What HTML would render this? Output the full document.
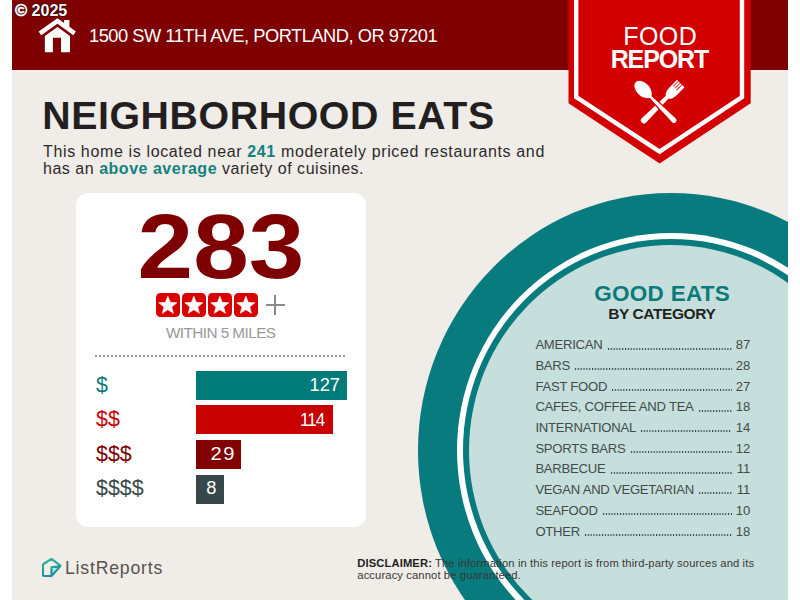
<!DOCTYPE html>
<html><head><meta charset="utf-8">
<style>
html,body{margin:0;padding:0;width:800px;height:600px;overflow:hidden;background:#fff;}
body{font-family:"Liberation Sans",sans-serif;position:relative;}
#page{position:absolute;left:12px;top:0;width:776px;height:600px;background:#f0ece8;overflow:hidden;}
.t{position:absolute;white-space:nowrap;line-height:1;}
#hdr{position:absolute;left:12px;top:0;width:776px;height:70px;background:#7e0000;}
#copy{left:15px;top:2.3px;color:#fff;font-weight:bold;font-size:16px;text-shadow:0 0 1.5px #000,0 0 1px #000;}
#addr{left:89px;top:26.5px;color:#fff;font-size:18.3px;letter-spacing:-0.49px;}
#title{left:42.2px;top:95.8px;color:#231f20;font-weight:bold;font-size:39.3px;letter-spacing:0.59px;}
#para{left:43px;top:143px;color:#2d2a2a;font-size:16px;line-height:17.3px;letter-spacing:0.64px;}
#para b{color:#13827f;}
#disc b{color:#231f20;}
#food{left:568px;top:23.6px;width:184px;text-align:center;color:#fff;font-size:25px;letter-spacing:0.5px;text-indent:0.5px;}
#report{left:568px;top:46.7px;width:184px;text-align:center;color:#fff;font-size:25px;font-weight:bold;letter-spacing:-1.1px;text-indent:-1.1px;}
#card{position:absolute;left:76px;top:193px;width:290px;height:334px;background:#fff;border-radius:12px;}
#big{left:76px;width:290px;top:201.5px;text-align:center;color:#7e0000;font-weight:bold;font-size:90.3px;transform:scaleX(1.1066);transform-origin:145px 0;}
.star{position:absolute;top:293.2px;width:23.7px;height:23.5px;background:#d90000;border-radius:4.5px;}
#plus1{position:absolute;left:265.5px;top:303.7px;width:19.3px;height:2px;background:#8a8a8a;}
#plus2{position:absolute;left:274.4px;top:295px;width:2px;height:20px;background:#8a8a8a;}
#within{left:76px;width:290px;top:324.7px;text-align:center;color:#999;font-size:15.3px;letter-spacing:-0.55px;text-indent:-0.55px;}
#dash{position:absolute;left:95.3px;top:354.9px;width:251.5px;height:2px;background:repeating-linear-gradient(90deg,#999 0 2.5px,transparent 2.5px 4px);}
.bar{position:absolute;left:196px;height:29px;}
.bn{color:#fff;font-size:18.3px;text-align:right;}
.lbl{left:96px;font-size:21.4px;}
#circ{position:absolute;left:406.3px;top:192.7px;width:505.7px;height:515.4px;border-radius:50%;background:#077b7e;}
#ring{position:absolute;left:38.3px;top:40px;width:429px;height:435.4px;border-radius:50%;background:#fff;}
#ring2{position:absolute;left:6.85px;top:6.6px;width:415.3px;height:422.1px;border-radius:50%;background:#077b7e;}
#fill{position:absolute;left:5.5px;top:5.4px;width:404.3px;height:411.3px;border-radius:50%;background:#c7dfdc;}
#good{left:562px;top:282.5px;width:200px;text-align:center;color:#0b7a7a;font-weight:bold;font-size:22.5px;letter-spacing:0.3px;text-indent:0.3px;}
#bycat{left:562px;top:305.6px;width:200px;text-align:center;color:#231f20;font-weight:bold;font-size:15.5px;letter-spacing:-0.4px;text-indent:-0.4px;}
.row{position:absolute;left:535.4px;width:215px;height:14px;font-size:13.1px;line-height:1;color:#404b4b;display:flex;white-space:nowrap;}
.row span:first-child{letter-spacing:-0.25px;}
.row .d{flex:1;margin:0 3.5px 0 4.3px;height:12px;background-image:radial-gradient(circle at 1.5px 1px,#3a4444 0.75px,transparent 1.05px);background-size:2.85px 2px;background-repeat:repeat-x;background-position:0 9.4px;}
#logo{left:65px;top:559.6px;color:#58534f;font-size:17.7px;letter-spacing:0.78px;}
#disc{left:357.3px;top:558.3px;color:#3a3636;font-size:11.2px;line-height:11.9px;letter-spacing:0.125px;}
</style></head><body>
<div id="page">
  <div id="circ"><div id="ring"><div id="ring2"><div id="fill"></div></div></div></div>
</div>
<div id="hdr"></div>
<div id="copy" class="t"><span style="-webkit-text-stroke:0.6px #fff;font-size:16.5px">©</span> 2025</div>
<svg style="position:absolute;left:0;top:0" width="100" height="60" viewBox="0 0 100 60">
  <path d="M64.1 20 L69.4 20 L69.4 29 L64.1 26 Z" fill="#fff"/>
  <path d="M39.95 33.43 L57.46 21 L74.6 33.43" fill="none" stroke="#fff" stroke-width="4.5" stroke-miterlimit="10"/>
  <path d="M44.85 35.95 L57.46 27 L70 35.9 L70 52.2 L61 52.2 L61 37.8 L52.9 37.8 L52.9 52.2 L44.85 52.2 Z" fill="#fff"/>
</svg>
<div id="addr" class="t">1500 SW 11TH AVE, PORTLAND, OR 97201</div>

<svg style="position:absolute;left:568px;top:0" width="184" height="165" viewBox="0 0 184 165">
  <path d="M0.5 0 L182.7 0 L182.7 103.3 L91.6 163.5 L0.5 103.3 Z" fill="#d20000"/>
  <path d="M8.2 0 L8.2 97 L91.6 151.5 L174 97 L174 0" fill="none" stroke="#fff" stroke-width="4.4"/>
</svg>
<svg style="position:absolute;left:630px;top:76px" width="60" height="52" viewBox="0 0 60 52">
  <g transform="translate(50.75,7.6) rotate(45)" fill="#fff">
    <path d="M-5.3,0 L-3.7,0 L-3.7,7.5 L-2.9,7.5 L-2.9,0 L-1.2,0 L-1.2,7.5 L-0.4,7.5 L-0.4,0 L1.3,0 L1.3,7.5 L2.1,7.5 L2.1,0 L3.7,0 L3.7,7.5 L3.7,0 L5.3,0 L5.3,11 Q5.3,16.5 1.9,19.5 L3.1,52 A3.1,3.1 0 0 1 -3.1,52 L-1.9,19.5 Q-5.3,16.5 -5.3,11 Z"/>
  </g>
  <g transform="translate(13.2,13.6) rotate(-45)" fill="#fff" stroke="#d20000" stroke-width="1.3">
    <path d="M0,-11.2 C4.5,-11.2 7.3,-5.3 7.3,0 C7.3,5.3 4.3,9 1.9,11 L3.2,43.5 A3.2,3.2 0 0 1 -3.2,43.5 L-1.9,11 C-4.3,9 -7.3,5.3 -7.3,0 C-7.3,-5.3 -4.5,-11.2 0,-11.2 Z"/>
  </g>
</svg>
<div id="food" class="t">FOOD</div>
<div id="report" class="t">REPORT</div>

<div id="title" class="t">NEIGHBORHOOD EATS</div>
<div id="para" class="t">This home is located near <b>241</b> moderately priced restaurants and<br><span style="letter-spacing:0.52px">has an <b>above average</b> variety of cuisines.</span></div>

<div id="card"></div>
<div id="big" class="t">283</div>
<div class="star" style="left:156.1px"><svg width="23.7" height="23.5" viewBox="0 0 23.7 23.5" style="position:absolute;left:0;top:0"><polygon points="11.85,3.16 14.25,9.35 20.89,9.72 15.74,13.92 17.43,20.34 11.85,16.74 6.27,20.34 7.96,13.92 2.81,9.72 9.45,9.35" fill="#fff" stroke="#fff" stroke-width="0.6" stroke-linejoin="round"/></svg></div>
<div class="star" style="left:182px"><svg width="23.7" height="23.5" viewBox="0 0 23.7 23.5" style="position:absolute;left:0;top:0"><polygon points="11.85,3.16 14.25,9.35 20.89,9.72 15.74,13.92 17.43,20.34 11.85,16.74 6.27,20.34 7.96,13.92 2.81,9.72 9.45,9.35" fill="#fff" stroke="#fff" stroke-width="0.6" stroke-linejoin="round"/></svg></div>
<div class="star" style="left:208.1px"><svg width="23.7" height="23.5" viewBox="0 0 23.7 23.5" style="position:absolute;left:0;top:0"><polygon points="11.85,3.16 14.25,9.35 20.89,9.72 15.74,13.92 17.43,20.34 11.85,16.74 6.27,20.34 7.96,13.92 2.81,9.72 9.45,9.35" fill="#fff" stroke="#fff" stroke-width="0.6" stroke-linejoin="round"/></svg></div>
<div class="star" style="left:234px"><svg width="23.7" height="23.5" viewBox="0 0 23.7 23.5" style="position:absolute;left:0;top:0"><polygon points="11.85,3.16 14.25,9.35 20.89,9.72 15.74,13.92 17.43,20.34 11.85,16.74 6.27,20.34 7.96,13.92 2.81,9.72 9.45,9.35" fill="#fff" stroke="#fff" stroke-width="0.6" stroke-linejoin="round"/></svg></div>
<div id="plus1"></div><div id="plus2"></div>
<div id="within" class="t">WITHIN 5 MILES</div>
<div id="dash"></div>

<div class="lbl t" style="top:375px;color:#0b7a7a">$</div>
<div class="bar" style="top:371px;width:151px;background:#007b7a"></div>
<div class="bn t" style="left:301px;width:39px;top:376px">127</div>
<div class="lbl t" style="top:409px;color:#c00">$$</div>
<div class="bar" style="top:405px;width:137px;background:#c80000"></div>
<div class="bn t" style="left:285px;width:39.4px;top:410.5px;letter-spacing:-1px;margin-left:-0.5px;transform:scaleX(0.93);transform-origin:100% 0">114</div>
<div class="lbl t" style="top:443.5px;color:#7e0000">$$$</div>
<div class="bar" style="top:440px;width:45px;background:#820000"></div>
<div class="bn t" style="left:200px;width:34px;top:444.5px;letter-spacing:1.4px;margin-left:2.2px;transform:scaleX(1.1);transform-origin:100% 0">29</div>
<div class="lbl t" style="top:478px;color:#37474a">$$$$</div>
<div class="bar" style="top:474.5px;width:28px;background:#37474a"></div>
<div class="bn t" style="left:190px;width:26.5px;top:478.5px">8</div>

<div id="good" class="t">GOOD EATS</div>
<div id="bycat" class="t">BY CATEGORY</div>
<div class="row" style="top:338.2px"><span>AMERICAN</span><span class="d"></span><span>87</span></div>
<div class="row" style="top:358.9px"><span>BARS</span><span class="d"></span><span>28</span></div>
<div class="row" style="top:379.6px"><span>FAST FOOD</span><span class="d"></span><span>27</span></div>
<div class="row" style="top:400.3px"><span>CAFES, COFFEE AND TEA</span><span class="d"></span><span>18</span></div>
<div class="row" style="top:421px"><span>INTERNATIONAL</span><span class="d"></span><span>14</span></div>
<div class="row" style="top:441.7px"><span>SPORTS BARS</span><span class="d"></span><span>12</span></div>
<div class="row" style="top:462.4px"><span>BARBECUE</span><span class="d"></span><span>11</span></div>
<div class="row" style="top:483.1px"><span>VEGAN AND VEGETARIAN</span><span class="d"></span><span>11</span></div>
<div class="row" style="top:503.8px"><span>SEAFOOD</span><span class="d"></span><span>10</span></div>
<div class="row" style="top:524.5px"><span>OTHER</span><span class="d"></span><span>18</span></div>

<svg style="position:absolute;left:40px;top:556px" width="24" height="24" viewBox="0 0 24 24">
  <defs><linearGradient id="lg" x1="0" y1="0" x2="0.3" y2="1"><stop offset="0" stop-color="#2cb89b"/><stop offset="1" stop-color="#1c8e9c"/></linearGradient></defs>
  <path d="M11.5 11.2 L20 10.2 L11.5 19.6 Z" fill="#a6f0ee"/>
  <path d="M11.5 2.8 Q11.5 2.8 3.6 8 Q3 8.4 3 9.2 L3 19 Q3 20 4 20 L11.5 20 L20 10.6 Q20.6 9.9 20 9.4 Z M11.5 20 L11.5 11.2 L20 10.2" fill="none" stroke="url(#lg)" stroke-width="2.1" stroke-linejoin="round" stroke-linecap="round"/>
</svg>
<div id="logo" class="t">ListReports</div>
<div id="disc" class="t"><b>DISCLAIMER:</b> The information in this report is from third-party sources and its<br>accuracy cannot be guaranteed.</div>
</body></html>
